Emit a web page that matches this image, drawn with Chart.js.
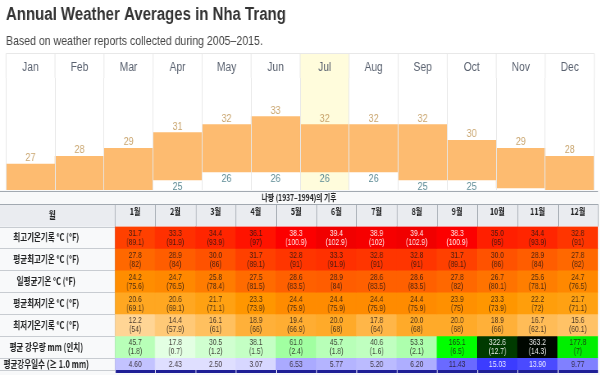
<!DOCTYPE html>
<html><head><meta charset="utf-8">
<script src="https://cdn.jsdelivr.net/npm/chart.js@4.4.1/dist/chart.umd.min.js"></script>
<style>
html,body{margin:0;padding:0;background:#fff;width:600px;height:375px;overflow:hidden;position:relative}
#w1{position:absolute;left:0;top:0;width:732px;height:191px;transform:scaleX(0.82);transform-origin:0 0}
#w2{position:absolute;left:0;top:190px;width:800px;height:185px;transform:scaleX(0.75);transform-origin:0 0}
</style></head><body>
<div id="w1"><canvas id="c1"></canvas></div>
<div id="w2"><canvas id="c2"></canvas></div>
<script>
// ---------- top chart data ----------
const months = ['Jan','Feb','Mar','Apr','May','Jun','Jul','Aug','Sep','Oct','Nov','Dec'];
const avgHigh = [27, 28, 29, 31, 32, 33, 32, 32, 32, 30, 29, 28];
const avgLow  = [22, 22, 23, 25, 26, 26, 26, 26, 25, 25, 24, 23];
const highlightMonth = 'Jul';
const chartTitle = 'Annual Weather Averages in Nha Trang';
const chartSubtitle = 'Based on weather reports collected during 2005–2015.';

// ---------- climate table data ----------
const tableTitle = '나짱 (1937–1994)의 기후';
const cornerLabel = '월';
const monthsKo = ['1월','2월','3월','4월','5월','6월','7월','8월','9월','10월','11월','12월'];
const rowLabels = ['최고기온기록 °C (°F)','평균최고기온 °C (°F)','일평균기온 °C (°F)','평균최저기온 °C (°F)','최저기온기록 °C (°F)','평균 강우량 mm (인치)','평균강우일수 (≥ 1.0 mm)'];
const recordHigh = [31.7, 33.3, 34.4, 36.1, 38.3, 39.4, 38.9, 39.4, 38.3, 35.0, 34.4, 32.8];
const meanMax    = [27.8, 28.9, 30.0, 31.7, 32.8, 33.3, 32.8, 32.8, 31.7, 30.0, 28.9, 27.8];
const dailyMean  = [24.2, 24.7, 25.8, 27.5, 28.6, 28.9, 28.6, 28.6, 27.8, 26.7, 25.6, 24.7];
const meanMin    = [20.6, 20.6, 21.7, 23.3, 24.4, 24.4, 24.4, 24.4, 23.9, 23.3, 22.2, 21.7];
const recordLow  = [12.2, 14.4, 16.1, 18.9, 19.4, 20.0, 17.8, 20.0, 20.0, 18.9, 16.7, 15.6];
const precipMm   = [45.7, 17.8, 30.5, 38.1, 61.0, 45.7, 40.6, 53.3, 165.1, 322.6, 363.2, 177.8];
const rainDays   = [4.60, 2.43, 2.50, 3.07, 6.53, 5.77, 5.20, 6.20, 11.43, 15.03, 13.90, 9.77];

const SANS = '"Liberation Sans", Arial, sans-serif';
const KR = '"Noto Sans CJK KR", "Noto Sans", sans-serif';

// ---------- top chart ----------
const FRAME_GAP = 4.5; // frame line sits a little above the month-label row
const colFrame = {
  id: 'colFrame',
  beforeDraw(chart) {
    const {ctx, chartArea: a, scales: {x}} = chart;
    const step = x.getPixelForValue(1) - x.getPixelForValue(0);
    const cx = x.getPixelForValue(months.indexOf(highlightMonth));
    const top = x.top - FRAME_GAP;
    ctx.save();
    ctx.fillStyle = '#fffcdc';
    ctx.fillRect(cx - step / 2, top, step, a.bottom - top);
    ctx.strokeStyle = '#e8e8e8';
    ctx.lineWidth = 1;
    ctx.beginPath();
    ctx.moveTo(a.left, Math.round(top) + 0.5);
    ctx.lineTo(a.right, Math.round(top) + 0.5);
    for (let j = 0; j <= months.length; j++) {
      const px = x.getPixelForValue(j) - step / 2;
      ctx.moveTo(px, top); ctx.lineTo(px, a.top);
    }
    ctx.stroke();
    ctx.restore();
  }
};
const barLabels = {
  id: 'barLabels',
  afterDatasetsDraw(chart) {
    const {ctx} = chart;
    const meta = chart.getDatasetMeta(0);
    ctx.save();
    ctx.font = '11px ' + SANS;
    ctx.textAlign = 'center';
    ctx.textBaseline = 'middle';
    meta.data.forEach((bar, i) => {
      const top = Math.min(bar.y, bar.base), bot = Math.max(bar.y, bar.base);
      ctx.fillStyle = '#c9a56e';
      ctx.fillText(String(avgHigh[i]), bar.x, top - 6);
      ctx.fillStyle = '#5d8b95';
      ctx.fillText(String(avgLow[i]), bar.x, bot + 7);
    });
    ctx.restore();
  }
};
new Chart(document.getElementById('c1'), {
  type: 'bar',
  data: {
    labels: months,
    datasets: [{
      data: avgHigh.map((h, i) => [avgLow[i], h]),
      backgroundColor: '#fdbb70',
      barPercentage: 1, categoryPercentage: 1, borderWidth: 0
    }]
  },
  options: {
    responsive: true, maintainAspectRatio: false, animation: false, devicePixelRatio: 1,
    layout: {padding: {left: 7.3, right: 7.3, top: 0, bottom: 0}},
    plugins: {
      legend: {display: false}, tooltip: {enabled: false},
      title: {display: true, text: chartTitle, align: 'start', color: '#333',
        font: {family: SANS, size: 18.3, weight: 'bold'}, padding: {top: 3.5, bottom: 8}},
      subtitle: {display: true, text: chartSubtitle, align: 'start', color: '#444',
        font: {family: SANS, size: 12.9}, padding: {top: 0, bottom: 9}}
    },
    scales: {
      x: {
        position: 'top',
        grid: {offset: true, color: '#e8e8e8', drawTicks: false, z: 1},
        border: {display: false},
        ticks: {color: '#5a6270', padding: 2.5, font: {family: SANS, size: 12.5}}
      },
      y: {display: false, min: 23.6, max: 37.9}
    }
  },
  plugins: [colFrame, barLabels]
});

// ---------- climate table ----------
const rowSeries = [recordHigh, meanMax, dailyMean, meanMin, recordLow, precipMm, rainDays];
const rowKind = ['temp', 'temp', 'temp', 'temp', 'temp', 'precip', 'days'];
function trimNum(v) { return String(Math.round(v * 10) / 10); }
function cellLines(r, j) {
  const v = rowSeries[r][j];
  if (rowKind[r] === 'temp') return [v.toFixed(1), '(' + trimNum(v * 9 / 5 + 32) + ')'];
  if (rowKind[r] === 'precip') return [v.toFixed(1), '(' + trimNum(v / 25.4) + ')'];
  return [v.toFixed(2)];
}
function tempColor(t) {
  if (t >= 38) return `rgb(${Math.round(255 - (t - 38) * 10)},0,0)`;
  if (t >= 23) return `rgb(255,${Math.round((38 - t) * 10.2)},0)`;
  const g = 255 - (t - 4.5) * 5.47, b = 255 * (23 - t) / 18.5;
  return `rgb(255,${Math.round(g)},${Math.round(b)})`;
}
function precipColor(p) {
  if (p <= 165.1) { const c = Math.round(255 - p * 1.545); return `rgb(${c},255,${c})`; }
  return `rgb(0,${Math.max(0, Math.round(255 - (p - 165.1) * 1.25))},0)`;
}
function daysColor(d) { const c = Math.round(255 - d * 13); return `rgb(${c},${c},255)`; }
function cellColor(r, j) {
  const v = rowSeries[r][j];
  if (rowKind[r] === 'temp') return tempColor(v);
  if (rowKind[r] === 'precip') return precipColor(v);
  return daysColor(v);
}
function cellText(r, j) {
  const v = rowSeries[r][j];
  const light = (rowKind[r] === 'temp' && v >= 38) || (rowKind[r] === 'precip' && v > 250) || (rowKind[r] === 'days' && v > 12.5);
  return light ? 'rgba(255,255,255,0.9)' : 'rgba(30,20,20,0.8)';
}
// row heights follow the number of text lines in the row
const rowHeights = rowSeries.map((s, r) => cellLines(r, 0).length + 0.3);
const bounds = [0];
rowHeights.forEach(h => bounds.push(bounds[bounds.length - 1] + h));
const centers = rowHeights.map((h, i) => bounds[i] + h / 2);

const LABEL_PAD = 26.7;
const LABEL_FONT = {family: KR, size: 10, weight: 'bold'};

const tableFrame = {
  id: 'tableFrame',
  beforeDraw(chart) {
    const {ctx, chartArea: a, scales: {x, y}} = chart;
    ctx.save();
    ctx.fillStyle = '#f8f9fa';
    ctx.fillRect(0, 0, chart.width, chart.height);
    ctx.strokeStyle = '#a2a9b1';
    ctx.lineWidth = 1;
    ctx.beginPath(); ctx.moveTo(0, 1.5); ctx.lineTo(a.right, 1.5); ctx.stroke();
    // header row
    ctx.fillStyle = '#eaecf0';
    ctx.fillRect(0, x.top, a.right, x.bottom - x.top);
    ctx.beginPath();
    ctx.moveTo(0, Math.round(x.top) + 0.5); ctx.lineTo(a.right, Math.round(x.top) + 0.5);
    const step = x.getPixelForValue(1) - x.getPixelForValue(0);
    for (let j = 0; j <= monthsKo.length; j++) {
      const px = Math.round(x.getPixelForValue(j) - step / 2) + 0.5;
      ctx.moveTo(px, x.top); ctx.lineTo(px, x.bottom);
    }
    ctx.moveTo(Math.round(a.left) + 0.5, x.top); ctx.lineTo(Math.round(a.left) + 0.5, a.bottom);
    ctx.stroke();
    // left column row borders
    ctx.strokeStyle = '#c8ccd1';
    ctx.beginPath();
    bounds.forEach(b => {
      const py = Math.round(y.getPixelForValue(b)) + 0.5;
      ctx.moveTo(0, py); ctx.lineTo(a.left, py);
    });
    ctx.stroke();
    // corner header text
    ctx.font = `bold ${LABEL_FONT.size}px ${KR}`;
    let widest = 0;
    rowLabels.forEach(l => { widest = Math.max(widest, ctx.measureText(l).width); });
    ctx.fillStyle = '#202122';
    ctx.textAlign = 'center'; ctx.textBaseline = 'middle';
    ctx.fillText(cornerLabel, y.right - LABEL_PAD - widest / 2, (x.top + x.bottom) / 2);
    ctx.restore();
  },
  afterDatasetsDraw(chart) {
    const {ctx} = chart;
    ctx.save();
    ctx.font = '9px ' + SANS;
    ctx.textAlign = 'center'; ctx.textBaseline = 'middle';
    rowSeries.forEach((s, r) => {
      chart.getDatasetMeta(r).data.forEach((bar, j) => {
        const lines = cellLines(r, j);
        const yc = (bar.y + bar.base) / 2 + 0.5;
        ctx.fillStyle = cellText(r, j);
        lines.forEach((t, k) => ctx.fillText(t, bar.x, yc + (k - (lines.length - 1) / 2) * 9));
      });
    });
    ctx.restore();
  },
  afterDraw(chart) {
    const {ctx, chartArea: a, scales: {x}} = chart;
    const step = x.getPixelForValue(1) - x.getPixelForValue(0);
    ctx.save();
    ctx.fillStyle = '#1f1f96';
    for (let j = 0; j < monthsKo.length; j++) {
      const l = x.getPixelForValue(j) - step / 2;
      ctx.fillRect(l + 1, a.bottom, step - 1, 3);
    }
    ctx.restore();
  }
};

new Chart(document.getElementById('c2'), {
  type: 'bar',
  data: {
    labels: monthsKo,
    datasets: rowSeries.map((s, r) => ({
      label: rowLabels[r],
      data: s.map(() => [bounds[r], bounds[r + 1]]),
      backgroundColor: s.map((v, j) => cellColor(r, j)),
      barPercentage: 1, categoryPercentage: 1, borderWidth: 0, grouped: false
    }))
  },
  options: {
    responsive: true, maintainAspectRatio: false, animation: false, devicePixelRatio: 1,
    layout: {padding: {left: 0, right: 2.7, top: 0, bottom: 5}},
    plugins: {
      legend: {display: false}, tooltip: {enabled: false},
      title: {display: true, text: tableTitle, color: '#202122',
        font: {family: KR, size: 9, weight: 'bold'}, padding: {top: 2, bottom: 1.2}}
    },
    scales: {
      x: {
        position: 'top',
        grid: {display: false}, border: {display: false},
        ticks: {color: '#202122', padding: 1.6, font: {family: KR, size: 9.5, weight: 'bold'}}
      },
      y: {
        reverse: true, min: 0, max: bounds[bounds.length - 1],
        grid: {display: false}, border: {display: false},
        afterBuildTicks: sc => { sc.ticks = centers.map(v => ({value: v})); },
        afterFit: sc => { sc.width = 153.3; sc.paddingTop = 0; sc.paddingBottom = 0; },
        ticks: {color: '#202122', padding: LABEL_PAD, crossAlign: 'center', font: LABEL_FONT,
          callback: (v, i) => rowLabels[i]}
      }
    }
  },
  plugins: [tableFrame]
});
</script>
</body></html>
